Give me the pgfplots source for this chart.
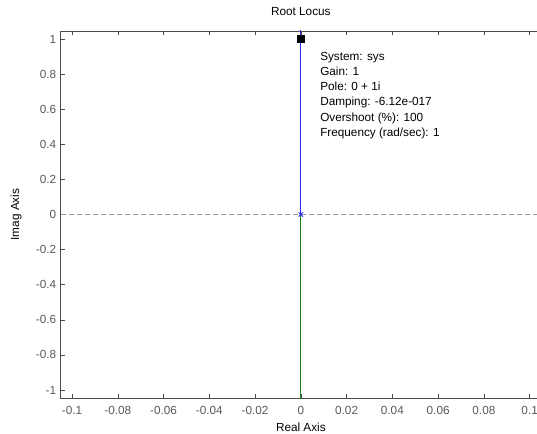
\documentclass[border=0pt]{standalone}
\usepackage{pgfplots}
\pgfplotsset{compat=1.18}
\usepackage{fontspec}
\setmainfont{Liberation Sans}
\definecolor{axgray}{rgb}{0.3,0.3,0.3}
\definecolor{tickgray}{rgb}{0.35,0.35,0.35}
\definecolor{locblue}{rgb}{0.15,0.15,0.95}
\definecolor{locgreen}{rgb}{0.1,0.5,0.1}
\begin{document}
\begin{tikzpicture}[x=1bp,y=1bp]
\begin{axis}[
  name=ax,
  scale only axis,
  width=480.5bp, height=367bp,
  xmin=-0.105, xmax=0.105, ymin=-1.0456, ymax=1.0456,
  xtick={-0.1,-0.08,-0.06,-0.04,-0.02,0,0.02,0.04,0.06,0.08,0.1},
  xticklabels={-0.1,-0.08,-0.06,-0.04,-0.02,0,0.02,0.04,0.06,0.08,0.1},
  ytick={-1,-0.8,-0.6,-0.4,-0.2,0,0.2,0.4,0.6,0.8,1},
  yticklabels={-1,-0.8,-0.6,-0.4,-0.2,0,0.2,0.4,0.6,0.8,1},
  tick align=inside,
  major tick length=4bp,
  axis line style={axgray, line width=0.6pt},
  tick style={axgray, line width=0.5pt},
  tick label style={font=\fontsize{11.8}{13}\selectfont, text=tickgray},
  xticklabel style={anchor=center, inner sep=0pt, yshift=-12.8bp},
  yticklabel style={anchor=east, inner sep=0pt, xshift=-4.3bp},
  title={Root Locus},
  title style={font=\fontsize{11.8}{13}\selectfont, at={(axis description cs:0.5,1.038)}, anchor=center, inner sep=0pt},
  xlabel={Real Axis},
  ylabel={Imag Axis},
  label style={font=\fontsize{11.8}{13}\selectfont},
  xlabel style={at={(axis description cs:0.5,-0.081)}, anchor=center, inner sep=0pt},
  ylabel style={at={(axis description cs:-0.0928,0.5)}, anchor=center, inner sep=0pt},
  clip=true,
]
\addplot[gray!80, line width=0.5pt, dash pattern=on 5bp off 3bp] coordinates {(-0.105,0) (0.105,0)};
\addplot[locblue, line width=0.9pt] coordinates {(0,0) (0,1.1)};
\addplot[locgreen, line width=0.9pt] coordinates {(0,0) (0,-1.1)};
\addplot[only marks, mark=x, mark size=3pt, locblue, line width=0.9pt] coordinates {(0,0)};
\addplot[only marks, mark=square*, mark size=3.5pt, black] coordinates {(0,1)};
\begin{scope}[every node/.style={anchor=base west, inner sep=0pt, font=\fontsize{11.8}{13}\selectfont}]
\node at (axis cs:0.0084,0.880) {System: sys};
\node at (axis cs:0.0084,0.793) {Gain: 1};
\node at (axis cs:0.0084,0.706) {Pole: 0 + 1i};
\node at (axis cs:0.0084,0.619) {Damping: -6.12e-017};
\node at (axis cs:0.0084,0.531) {Overshoot (\%): 100};
\node at (axis cs:0.0084,0.444) {Frequency (rad/sec): 1};
\end{scope}
\end{axis}
\pgfresetboundingbox
\path[use as bounding box] ([shift={(-60.6bp,-36bp)}]ax.south west) rectangle ++(537bp,434bp);
\end{tikzpicture}
\end{document}
